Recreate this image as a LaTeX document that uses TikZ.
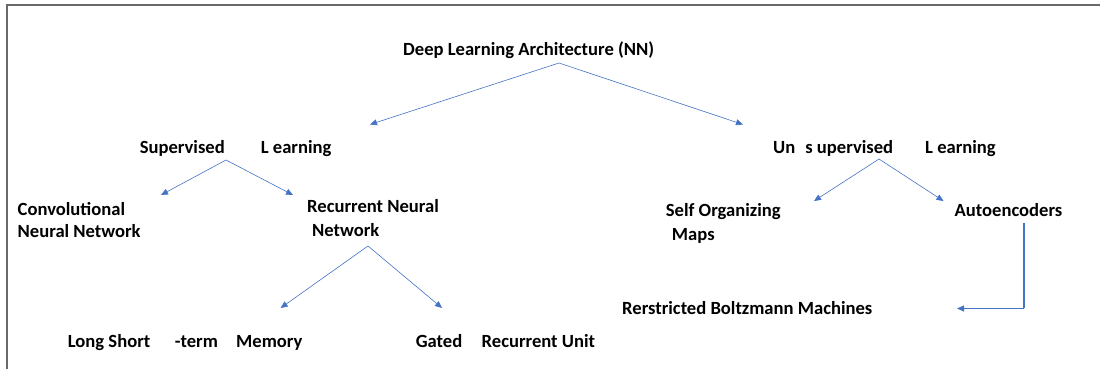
\documentclass[tikz,border=0pt]{standalone}
\usepackage{fontspec}
\setmainfont{Carlito}
\usepackage{tikz}
\usetikzlibrary{arrows.meta,positioning,calc}
\definecolor{dlbleu}{RGB}{68,114,196}
\definecolor{dlgris}{RGB}{105,105,105}

\begin{document}
\begin{tikzpicture}[x=1pt, y=-1pt,
  lbl/.style={inner sep=0pt, anchor=base west, font=\fontsize{18.6}{22.6}\selectfont\bfseries},
  lblm/.style={lbl, anchor=north west, align=left},
  branch/.style={-{Triangle[length=7pt, width=6pt]}, dlbleu, line width=0.6pt}
]
  \useasboundingbox (0,0) rectangle (1100,369);
  % frame
  \draw[dlgris, line width=2pt] (7,369) -- (7,5) -- (1100,5);

  % root
  \node[lbl] (root) at (403,56) {Deep Learning Architecture (NN)};
  \coordinate (root_o) at (559,63);
  \coordinate (sup_i) at (370,124.5);
  \coordinate (uns_i) at (743,124.5);

  % Supervised Learning
  \node[lbl] (sup) at (139.6,153) {Supervised\hspace{36pt}L earning};
  \coordinate (sup_o) at (226,160);
  \coordinate (cnn_i) at (161,195);
  \coordinate (rnn_i) at (293,195);

  % Unsupervised Learning
  \node[lbl] (uns) at (773,153) {Un\hspace{10pt}s upervised\hspace{32pt}L earning};
  \coordinate (uns_o) at (879,159);
  \coordinate (som_i) at (814,201);
  \coordinate (ae_i) at (943.5,201);

  % CNN / RNN
  \node[lblm] (cnn) at (17.5,202) {Convolutional\\Neural Network};
  \node[lblm] (rnn) at (307,199) {Recurrent Neural\\[1.4pt]\hspace{5pt}Network};
  \coordinate (rnn_o) at (368,246);
  \coordinate (lstm_i) at (280.6,308);
  \coordinate (gru_i) at (442,308);

  % LSTM / GRU
  \node[lbl] (lstm) at (67.7,347.4) {Long Short\hspace{24.6pt}-term\hspace{18.3pt}Memory};
  \node[lbl] (gru) at (415.6,347.4) {Gated\hspace{19.5pt}Recurrent Unit};

  % SOM / Autoencoders / RBM
  \node[lblm] (som) at (665.7,203.5) {Self Organizing\\[0.8pt]\hspace{6pt}Maps};
  \node[lbl] (ae) at (954.4,216.6) {Autoencoders};
  \coordinate (ae_o) at (1024,223);
  \coordinate (ae_k) at (1024,308.5);
  \coordinate (rbm_i) at (957,308.5);
  \node[lbl] (rbm) at (622,314) {Rerstricted Boltzmann Machines};

  % connectors
  \draw[branch] (root_o) -- (sup_i);
  \draw[branch] (root_o) -- (uns_i);
  \draw[branch] (sup_o) -- (cnn_i);
  \draw[branch] (sup_o) -- (rnn_i);
  \draw[branch] (rnn_o) -- (lstm_i);
  \draw[branch] (rnn_o) -- (gru_i);
  \draw[branch] (uns_o) -- (som_i);
  \draw[branch] (uns_o) -- (ae_i);
  \draw[dlbleu, line width=1.8pt] (ae_o) -- ([yshift=0.9pt]ae_k);
  \draw[branch, line width=0.9pt] (ae_k) -- (rbm_i);
\end{tikzpicture}
\end{document}
